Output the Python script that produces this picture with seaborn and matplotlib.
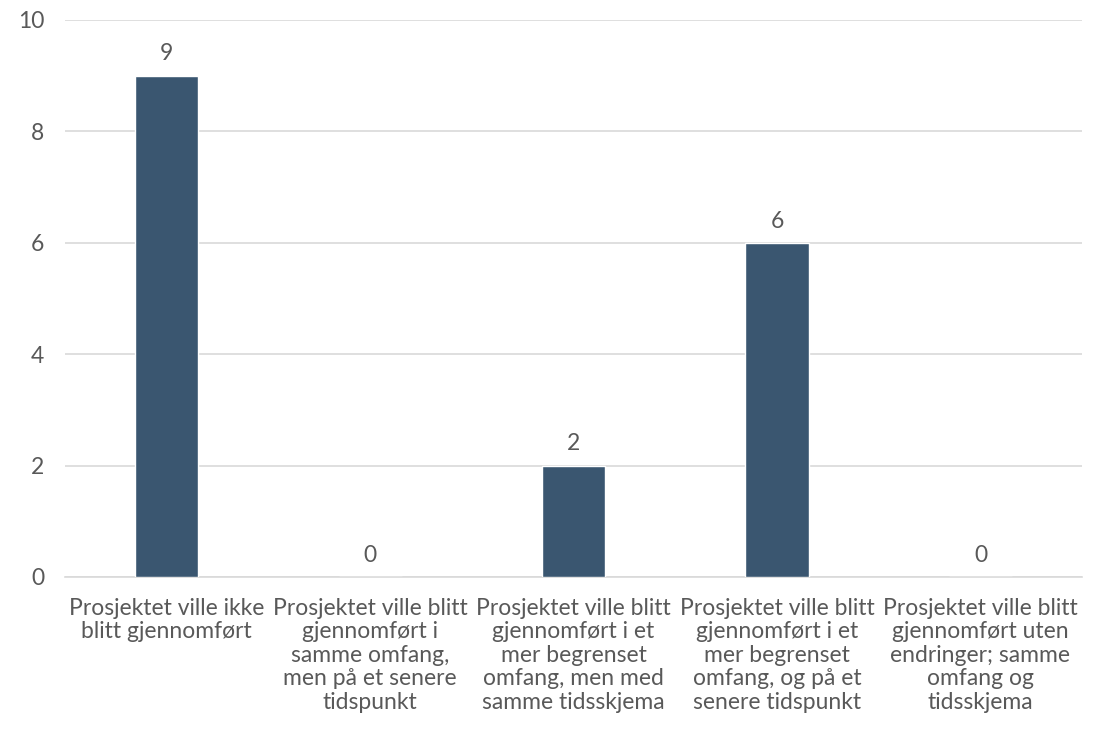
import matplotlib
matplotlib.use("Agg")
import matplotlib.pyplot as plt
import seaborn as sns
import pandas as pd

categories = [
    "Prosjektet ville ikke\nblitt gjennomført",
    "Prosjektet ville blitt\ngjennomført i\nsamme omfang,\nmen på et senere\ntidspunkt",
    "Prosjektet ville blitt\ngjennomført i et\nmer begrenset\nomfang, men med\nsamme tidsskjema",
    "Prosjektet ville blitt\ngjennomført i et\nmer begrenset\nomfang, og på et\nsenere tidspunkt",
    "Prosjektet ville blitt\ngjennomført uten\nendringer; samme\nomfang og\ntidsskjema",
]
values = [9, 0, 2, 6, 0]
y_ticks = [0, 2, 4, 6, 8, 10]

sns.set_theme(style="white")
plt.rcParams["font.family"] = ["Lato", "DejaVu Sans"]

text_color = "#595959"
bar_color = "#3A5670"
grid_color = "#D9D9D9"

df = pd.DataFrame({"kategori": categories, "antall": values})

fig = plt.figure(figsize=(11.02, 7.35), dpi=100)
ax = fig.add_axes([0.059, 0.215, 0.923, 0.758])

sns.barplot(data=df, x="kategori", y="antall", color=bar_color,
            width=0.31, saturation=1, ax=ax, zorder=3)

ax.set_ylim(0, 10)
ax.set_yticks(y_ticks)
ax.set_xlim(-0.5, len(categories) - 0.5)
ax.yaxis.grid(True, color=grid_color, linewidth=1.2, zorder=0)
ax.xaxis.grid(False)
for side in ["left", "right", "top"]:
    ax.spines[side].set_visible(False)
ax.spines["bottom"].set_color(grid_color)
ax.spines["bottom"].set_linewidth(1.2)
ax.set_xlabel("")
ax.set_ylabel("")
ax.tick_params(axis="both", length=0, labelsize=16.5, colors=text_color)
ax.tick_params(axis="x", pad=15)
ax.tick_params(axis="y", pad=15)
for lbl in ax.get_xticklabels():
    lbl.set_linespacing(1.15)

for container in ax.containers:
    ax.bar_label(container, labels=[str(v) for v in values], padding=8,
                 fontsize=16.5, color=text_color)

fig.savefig("out.png", dpi=100, facecolor="white")
